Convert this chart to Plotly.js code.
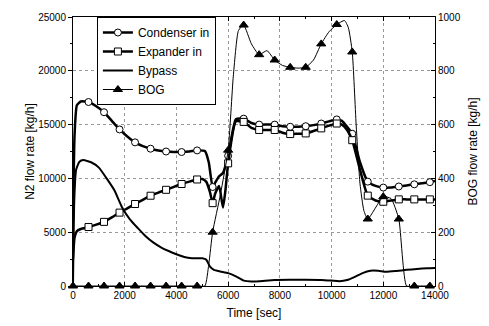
<!DOCTYPE html>
<html><head><meta charset="utf-8">
<script src="https://cdn.plot.ly/plotly-3.0.1.min.js"></script>
<style>html,body{margin:0;padding:0;background:#fff}#chart{width:489px;height:326px}</style>
</head><body><div id="chart"></div>
<script>
// ---- data (time in s, N2 flows in kg/h on left axis, BOG in kg/h on right axis) ----
const tCond = [0,60,150,300,600,900,1200,1500,1800,2100,2400,2700,3000,3300,3600,3900,4200,4500,4800,5100,5250,5400,5500,5650,5800,6000,6300,6600,6900,7200,7500,7800,8100,8400,8700,9000,9300,9600,9900,10200,10400,10600,10800,11100,11400,11700,12000,12300,12600,12900,13200,13500,13800,14000];
const condIn = [6000,14000,16800,17150,17100,16700,16150,15350,14550,13900,13350,13000,12760,12600,12500,12450,12450,12500,12600,12550,11500,9200,9600,10200,10500,12100,15500,15550,15150,15000,15000,15000,14850,14800,14800,14850,14950,15100,15300,15480,15350,14800,14150,11500,9700,9300,9150,9150,9250,9350,9450,9550,9650,9750];

const tExp = [0,60,150,300,600,900,1200,1500,1800,2100,2400,2700,3000,3300,3600,3900,4200,4500,4800,5000,5150,5300,5400,5500,5650,5800,5900,6000,6300,6600,6900,7200,7500,7800,8100,8400,8700,9000,9300,9600,9900,10200,10400,10600,10800,11100,11400,11700,12000,12300,12600,12900,13200,13500,13800,14000];
const expIn = [2500,4500,5100,5300,5480,5700,5960,6380,6820,7220,7620,8010,8390,8680,8940,9220,9480,9700,9900,9950,9700,8700,7700,8600,9300,7300,9000,11400,15300,15250,14700,14500,14500,14500,14250,14120,14150,14180,14400,14650,14900,15100,15000,14500,13550,10800,8400,7950,7830,7950,8050,8050,8050,8050,8050,8050];

const tByp = [0,50,120,250,400,700,1000,1300,1600,1900,2200,2500,2800,3100,3400,3700,4000,4300,4600,5000,5150,5300,5450,5700,6000,6300,6600,6900,7200,7800,8400,9000,9600,10000,10300,10600,10900,11200,11500,11800,12100,12500,12900,13300,13700,14000];
const bypass = [0,8000,10800,11550,11700,11500,11000,10000,8900,7300,6200,5400,4650,4050,3600,3250,2950,2700,2580,2570,2450,1800,1500,1350,1200,900,500,420,450,560,580,580,560,500,450,550,850,1200,1420,1420,1330,1400,1500,1580,1650,1680];

const tBog = [0,600,1200,1800,2400,3000,3600,4200,4800,5100,5250,5400,5700,6000,6200,6400,6600,6900,7200,7500,7800,8100,8400,8700,9000,9300,9600,9900,10200,10500,10650,10800,10950,11100,11250,11400,12000,12300,12600,12900,13200,13800];
const bog = [0,0,0,0,0,0,0,0,0,0,80,200,340,505,780,950,970,900,860,875,840,820,813,810,813,840,900,945,972,987,960,870,600,380,280,249,332,325,249,0,0,0];

const seriesNames = ['Condenser in','Expander in','Bypass','BOG'];
const xTicks = [0,2000,4000,6000,8000,10000,12000,14000];

// ---- helpers ----
const MARK_STEP = 600;
function pick(t, v, withZero) {
  const xs = [], ys = [];
  t.forEach((tt, i) => {
    if (tt % MARK_STEP === 0 && (withZero || tt > 0)) { xs.push(tt); ys.push(v[i]); }
  });
  return {x: xs, y: ys};
}

const traces = [];
function addSeries(name, t, v, opts) {
  const yax = opts.y2 ? 'y2' : 'y';
  traces.push({x: t, y: v, type: 'scatter', mode: 'lines', yaxis: yax,
    line: {color: '#000', width: opts.lw, shape: 'spline', smoothing: 0.5}, showlegend: false, hoverinfo: 'skip'});
  const leg = {x: [null], y: [null], type: 'scatter', name: name, yaxis: yax,
    mode: 'lines', line: {color: '#000', width: opts.lw}};
  if (opts.symbol) {
    const mk = {symbol: opts.symbol, size: opts.ms, color: opts.fill, line: {color: '#000', width: 1}};
    const m = pick(t, v, opts.withZero);
    traces.push({x: m.x, y: m.y, type: 'scatter', mode: 'markers', yaxis: yax, cliponaxis: false,
      marker: mk, showlegend: false, hoverinfo: 'skip'});
    leg.mode = 'lines+markers';
    leg.marker = mk;
  }
  traces.push(leg);
}
addSeries(seriesNames[0], tCond, condIn, {lw: 2.5, symbol: 'circle', ms: 7, fill: '#fff'});
addSeries(seriesNames[1], tExp, expIn, {lw: 2.5, symbol: 'square', ms: 7, fill: '#fff'});
addSeries(seriesNames[2], tByp, bypass, {lw: 2});
addSeries(seriesNames[3], tBog, bog, {lw: 1, symbol: 'triangle-up', ms: 8, fill: '#000', y2: true, withZero: true});

const font = {family: 'Liberation Sans, Arial, sans-serif', color: '#000'};
const layout = {
  width: 489, height: 326,
  margin: {l: 73, r: 54, t: 17, b: 40},
  paper_bgcolor: '#fff', plot_bgcolor: '#fff',
  font: Object.assign({size: 10}, font),
  showlegend: true,
  legend: {x: 0.066, y: 1, xanchor: 'left', yanchor: 'top', bgcolor: '#fff',
    bordercolor: '#000', borderwidth: 1, font: Object.assign({size: 12}, font), tracegroupgap: 0},
  xaxis: {range: [0, 14000], tickvals: xTicks, ticktext: xTicks.map(String),
    showgrid: true, gridcolor: '#999', griddash: 'dot', gridwidth: 1,
    zeroline: false, showline: true, linecolor: '#000', linewidth: 1, mirror: 'ticks',
    ticks: 'inside', ticklen: 4, tickcolor: '#000',
    minor: {ticks: 'inside', ticklen: 2, dtick: 1000, tick0: 0, showgrid: false},
    tickfont: {size: 10}, title: {text: 'Time [sec]', font: {size: 12}, standoff: 8}},
  yaxis: {range: [0, 25000], dtick: 5000, tick0: 0, tickformat: 'd',
    showgrid: true, gridcolor: '#999', griddash: 'dot', gridwidth: 1,
    zeroline: false, showline: true, linecolor: '#000', linewidth: 1, mirror: true,
    ticks: 'outside', ticklen: 4, tickcolor: '#000',
    minor: {ticks: 'outside', ticklen: 2, dtick: 2500, tick0: 0, showgrid: false},
    tickfont: {size: 10}, title: {text: 'N2 flow rate [kg/h]', font: {size: 12}, standoff: 0}},
  yaxis2: {range: [0, 1000], dtick: 200, tick0: 0, tickformat: 'd', overlaying: 'y', side: 'right',
    showgrid: false, zeroline: false, showline: true, linecolor: '#000', linewidth: 1,
    ticks: 'inside', ticklen: 4, tickcolor: '#000',
    minor: {ticks: 'inside', ticklen: 2, dtick: 100, tick0: 0},
    tickfont: {size: 10}, title: {text: 'BOG flow rate [kg/h]', font: {size: 12}, standoff: 8}}
};
Plotly.newPlot('chart', traces, layout, {staticPlot: true, displayModeBar: false});
</script></body></html>
